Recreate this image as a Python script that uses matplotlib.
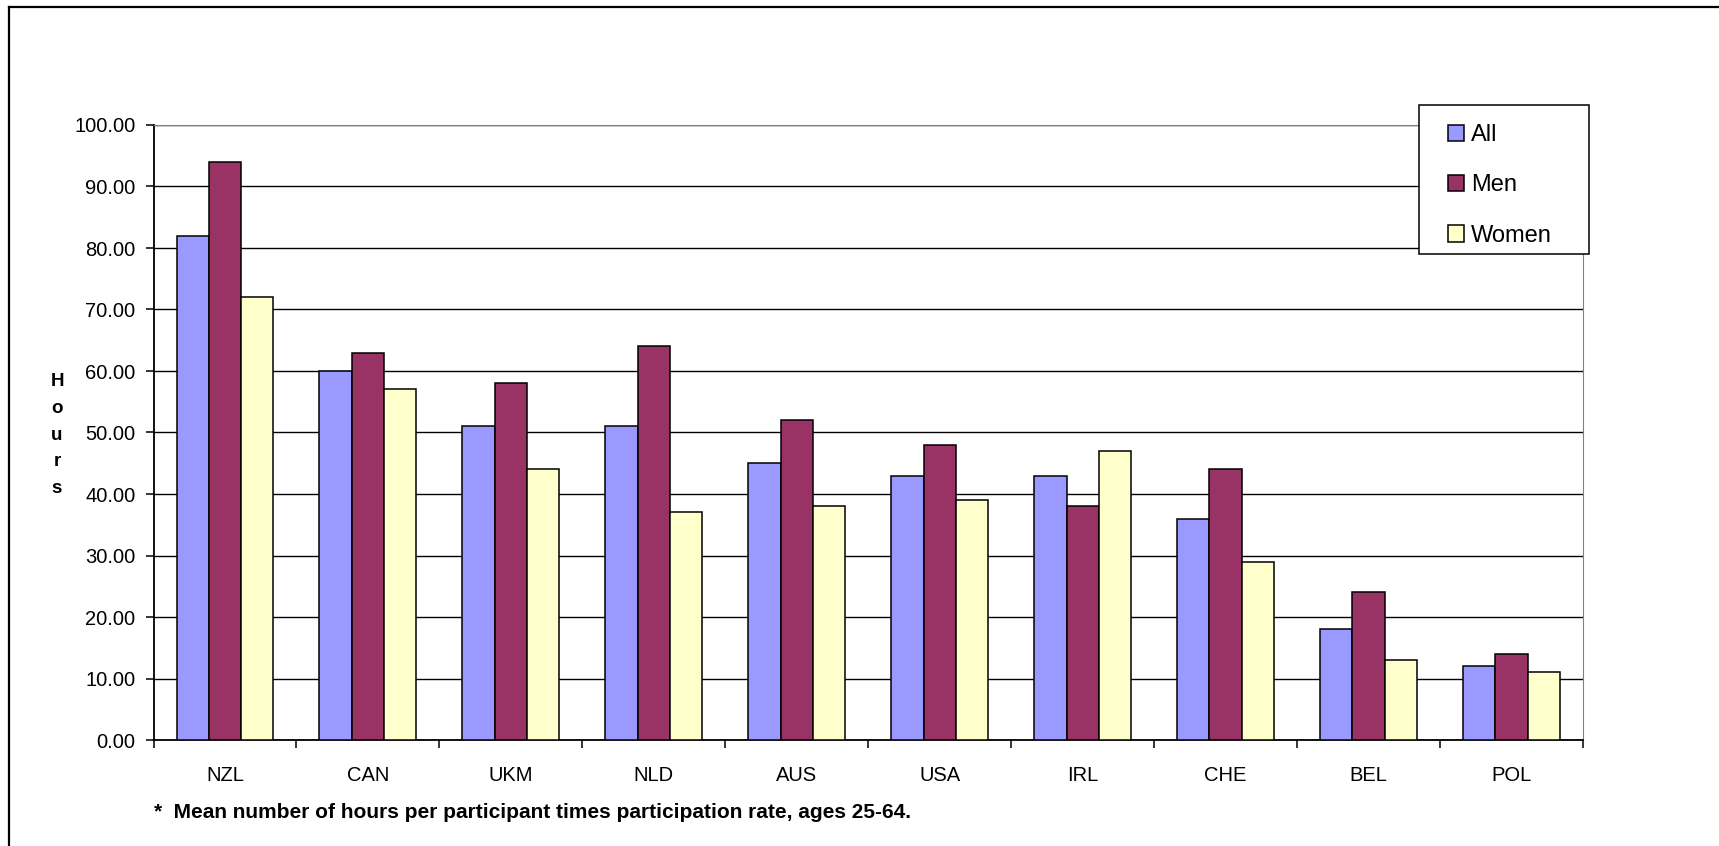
import matplotlib.pyplot as plt
import numpy as np
from matplotlib.lines import Line2D
from matplotlib.patches import Rectangle

plt.rcParams['font.family'] = ['Liberation Sans', 'DejaVu Sans']

countries = ['NZL', 'CAN', 'UKM', 'NLD', 'AUS', 'USA', 'IRL', 'CHE', 'BEL', 'POL']
all_vals = [82, 60, 51, 51, 45, 43, 43, 36, 18, 12]
men_vals = [94, 63, 58, 64, 52, 48, 38, 44, 24, 14]
women_vals = [72, 57, 44, 37, 38, 39, 47, 29, 13, 11]
series = ['All', 'Men', 'Women']
colors = ['#9999FF', '#993366', '#FFFFCC']
yticks = np.arange(0, 101, 10)

W, H = 1719, 846
fig = plt.figure(figsize=(W / 100, H / 100), dpi=100)
ax = fig.add_axes([153.5 / W, 1 - 740 / H, (1583 - 153.5) / W, (740 - 125) / H])

x = np.arange(len(countries))
bw = 0.226
for i, (name, vals) in enumerate(zip(series, [all_vals, men_vals, women_vals])):
    ax.bar(x + (i - 1) * bw, vals, bw, color=colors[i], edgecolor='black',
           linewidth=1.1, label=name, zorder=3)

ax.set_xlim(-0.5, len(countries) - 0.5)
ax.set_ylim(0, 100)
ax.set_yticks(yticks)
ax.set_yticklabels([f'{v:.2f}' for v in yticks], fontsize=14.5)
ax.set_xticks(x)
ax.set_xticklabels(countries, fontsize=14.5)
ax.tick_params(axis='x', length=0, pad=19)
ax.set_xticks(np.arange(-0.5, len(countries) + 0.5, 1), minor=True)
ax.tick_params(axis='x', which='minor', length=6, width=1.1, direction='out')
ax.tick_params(axis='y', length=6, width=1.1, direction='out', pad=7)

ax.grid(axis='y', color='black', linewidth=1.0, zorder=0)
ax.set_axisbelow(True)
ax.spines['left'].set_linewidth(1.3)
ax.spines['bottom'].set_linewidth(1.3)
ax.spines['top'].set_color('#808080')
ax.spines['right'].set_color('#808080')
ax.spines['top'].set_linewidth(0.8)
ax.spines['right'].set_linewidth(0.8)

fig.text(57 / W, 1 - 435 / H, 'H\no\nu\nr\ns', ha='center', va='center',
         fontsize=13.5, fontweight='bold', linespacing=1.75)

fig.text(154 / W, 1 - 818 / H,
         '*  Mean number of hours per participant times participation rate, ages 25-64.',
         ha='left', va='baseline', fontsize=15, fontweight='bold')

# legend box drawn separately so its padding can match the original
ax.add_patch(Rectangle((1419 / W, 1 - 254 / H), 170 / W, 149 / H,
                       transform=fig.transFigure, facecolor='white',
                       edgecolor='black', linewidth=1.1, clip_on=False, zorder=9))
leg = ax.legend(loc='upper left', bbox_to_anchor=(1448 / W, 1 - 124 / H),
                bbox_transform=fig.transFigure, fontsize=17, frameon=False,
                handlelength=0.68, handleheight=0.68, handletextpad=0.3,
                labelspacing=1.2, borderpad=0, borderaxespad=0)
leg.set_zorder(10)
for h in leg.legend_handles:
    h.set_linewidth(1.1)

# outer chart border (left and top visible)
fig.add_artist(Line2D([9 / W, 9 / W], [0, 1 - 7 / H], color='black', lw=1.6,
                      transform=fig.transFigure))
fig.add_artist(Line2D([9 / W, 1], [1 - 7 / H, 1 - 7 / H], color='black', lw=1.6,
                      transform=fig.transFigure))

fig.savefig('out.png', dpi=100, facecolor='white')
